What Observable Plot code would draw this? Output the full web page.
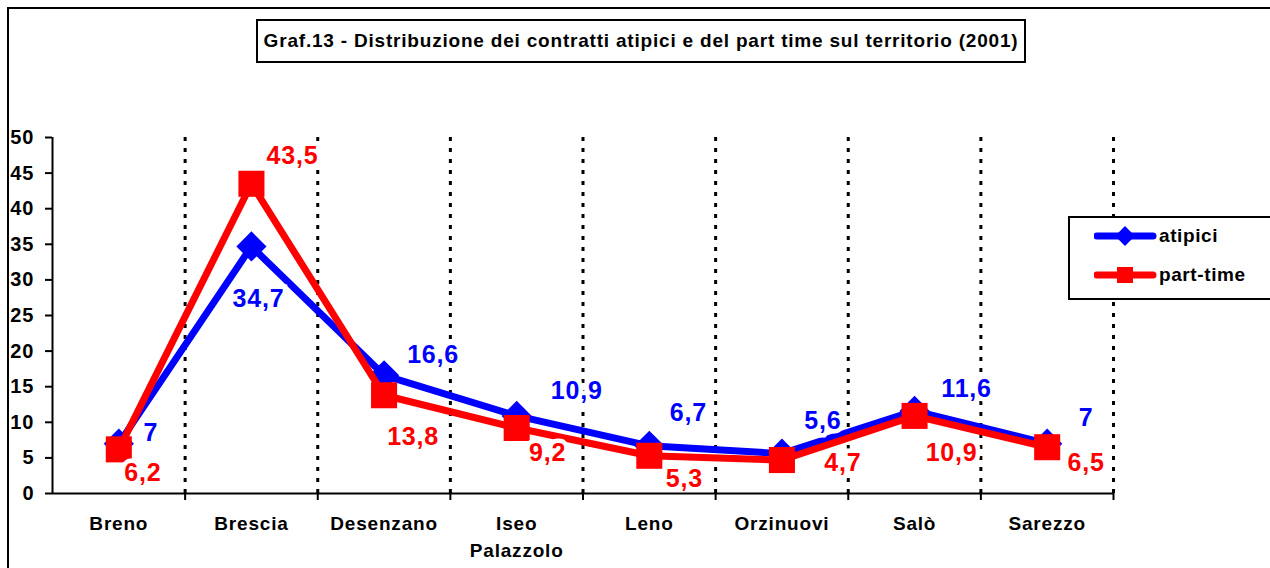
<!DOCTYPE html>
<html>
<head>
<meta charset="utf-8">
<script src="https://cdn.jsdelivr.net/npm/d3@7"></script>
<script src="https://cdn.jsdelivr.net/npm/@observablehq/plot@0.6"></script>
<style>
  html, body { margin: 0; padding: 0; background: #fff; }
  #wrap { position: relative; width: 1270px; height: 568px; overflow: hidden; font-family: Arial, "Liberation Sans", sans-serif; }
  #frame { position: absolute; left: 7px; top: 7px; width: 1400px; height: 700px; border-left: 2px solid #000; border-top: 2px solid #000; }
  #chart { position: absolute; left: 0; top: 0; }
  #title { position: absolute; left: 256px; top: 19px; width: 766px; height: 40px; border: 2px solid #000; background: #fff;
           display: flex; align-items: center; justify-content: center; font-weight: bold; font-size: 19px; letter-spacing: 0.8px; color: #000; white-space: nowrap; }
  #legend { position: absolute; left: 1068px; top: 216px; width: 220px; height: 80px; border: 2px solid #000; background: #fff; }
  .lg { position: absolute; left: 24px; display: flex; align-items: center; font-weight: bold; font-size: 19px; letter-spacing: 0.6px; color: #000; }
  g[aria-label="y-axis tick label"] text { letter-spacing: 1px; }
  g[aria-label="x-axis tick label"] text { letter-spacing: 0.8px; }
  g[aria-label="text"] text { letter-spacing: 0.8px; }
</style>
</head>
<body>
<div id="wrap">
  <div id="frame"></div>
  <div id="chart"></div>
  <div id="title">Graf.13 - Distribuzione dei contratti atipici e del part time sul territorio (2001)</div>
  <div id="legend"></div>
</div>
<script>
// ---- data ----
const categories = ["Breno", "Brescia", "Desenzano", "Iseo\nPalazzolo", "Leno", "Orzinuovi", "Salò", "Sarezzo"];
const atipici = [7, 34.7, 16.6, 10.9, 6.7, 5.6, 11.6, 7];
const partTime = [6.2, 43.5, 13.8, 9.2, 5.3, 4.7, 10.9, 6.5];
const yTicks = [0, 5, 10, 15, 20, 25, 30, 35, 40, 45, 50];
const seriesNames = ["atipici", "part-time"];
const seriesColors = ["#0000ff", "#ff0000"];

// label offsets (pixels) for the value labels
const atipiciLabelOffsets = [[32, -11], [7, 53], [49, -20], [60, -25], [39, -33], [41, -33], [52, -22], [39, -26]];
const partTimeLabelOffsets = [[24, 24], [41, -28], [29, 42], [31, 25], [35, 23], [61, 3], [37, 37], [39, 16]];

const fmt = v => String(v).replace(".", ",");
const rowsA = atipici.map((v, i) => ({i, value: v}));
const rowsP = partTime.map((v, i) => ({i, value: v}));
const centers = categories.map((c, i) => i + 0.5);
const bounds = categories.map((c, i) => i + 1);

const labelMarks = [];
[[rowsA, atipiciLabelOffsets, seriesColors[0]], [rowsP, partTimeLabelOffsets, seriesColors[1]]].forEach(([rows, offs, col]) => {
  rows.forEach((r, k) => {
    labelMarks.push(Plot.text([r], {
      x: d => d.i + 0.5, y: "value", text: d => fmt(d.value),
      dx: offs[k][0], dy: offs[k][1],
      fill: col, stroke: "white", strokeWidth: 9, strokeLinejoin: "miter",
      fontSize: 25, fontWeight: "bold", fontFamily: "Arial, Liberation Sans, sans-serif"
    }));
  });
});

const chart = Plot.plot({
  width: 1270, height: 568,
  marginLeft: 52, marginRight: 157, marginTop: 137, marginBottom: 75,
  style: {background: "transparent", fontFamily: "Arial, Liberation Sans, sans-serif", color: "#000"},
  x: {type: "linear", domain: [0, categories.length]},
  y: {domain: [0, 50]},
  marks: [
    Plot.ruleX(bounds, {strokeDasharray: "4,7", strokeWidth: 3, stroke: "#000"}),
    Plot.axisY({ticks: yTicks, tickSize: 7, tickPadding: 11, fontSize: 20, fontWeight: "bold", label: null, strokeWidth: 2}),
    Plot.axisX({ticks: centers, tickSize: 0, tickPadding: 18, tickFormat: d => categories[Math.floor(d)], fontSize: 19, fontWeight: "bold", lineHeight: 1.4, label: null}),
    Plot.line(rowsA, {x: d => d.i + 0.5, y: "value", stroke: seriesColors[0], strokeWidth: 7}),
    Plot.dot(rowsA, {x: d => d.i + 0.5, y: "value", symbol: "diamond2", r: 13.6, fill: seriesColors[0], stroke: "none"}),
    Plot.line(rowsP, {x: d => d.i + 0.5, y: "value", stroke: seriesColors[1], strokeWidth: 7}),
    Plot.dot(rowsP, {x: d => d.i + 0.5, y: "value", symbol: "square", r: 14.7, fill: seriesColors[1], stroke: "none"}),
    ...labelMarks,
    Plot.ruleX([0], {stroke: "#000", strokeWidth: 2}),
    Plot.ruleY([0], {stroke: "#000", strokeWidth: 2}),
    Plot.axisX({ticks: bounds, tickSize: 7, tickFormat: () => "", label: null, strokeWidth: 2})
  ]
});
document.getElementById("chart").appendChild(chart);

// legend
const lg = document.getElementById("legend");
seriesNames.forEach((name, k) => {
  const item = document.createElement("div");
  item.className = "lg";
  item.style.top = (k === 0 ? 3 : 42) + "px";
  const marker = k === 0
    ? `<rect x="${31 - 7}" y="${15 - 7}" width="14" height="14" transform="rotate(45 31 15)" fill="${seriesColors[k]}"/>`
    : `<rect x="${31 - 8}" y="${15 - 8}" width="16" height="16" fill="${seriesColors[k]}"/>`;
  item.innerHTML = `<svg width="64" height="30"><line x1="3" y1="15" x2="59" y2="15" stroke="${seriesColors[k]}" stroke-width="7" stroke-linecap="round"/>${marker}</svg><span style="margin-left:1px">${name}</span>`;
  lg.appendChild(item);
});
</script>
</body>
</html>
